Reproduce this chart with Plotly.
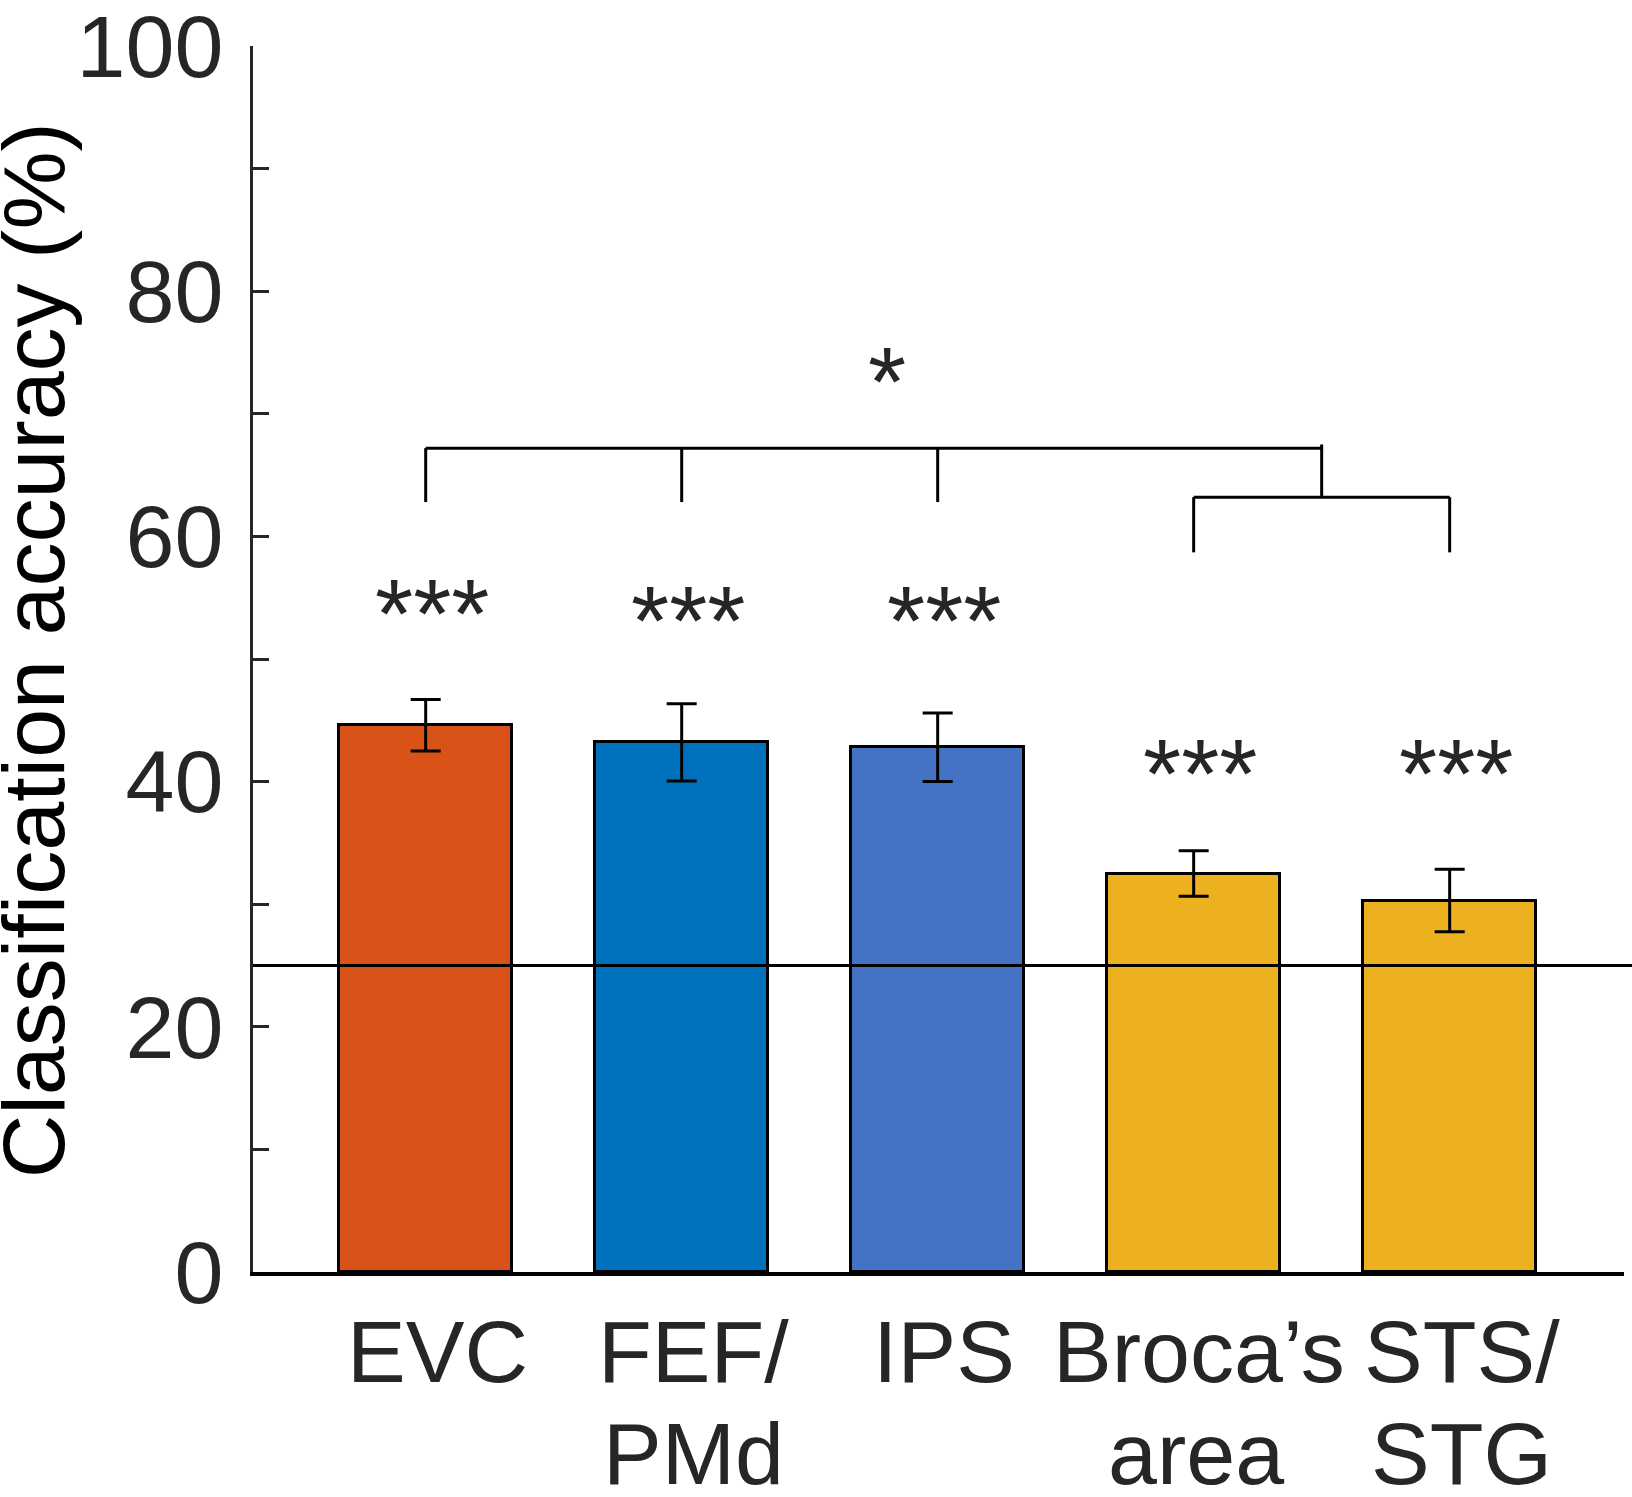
import plotly.graph_objects as go

# Regions of interest and decoding accuracy (%)
regions = [["EVC"], ["FEF/", "PMd"], ["IPS"], ["Broca’s", "area"], ["STS/", "STG"]]
accuracy = [44.6, 43.2, 42.8, 32.5, 30.3]
sem = [2.1, 3.15, 2.8, 1.85, 2.55]
bar_colors = ["#D95319", "#0072BD", "#4472C4", "#EDB120", "#EDB120"]
chance_level = 25
stars = ["***", "***", "***", "***", "***"]
star_y = [54.5, 53.9, 53.9, 41.4, 41.4]

# Group comparison: visual/dorsal ROIs vs. language ROIs
group_left = [1, 2, 3]
group_right = [4, 5]
group_line_y = 67.2
group_drop_y = 62.8
pair_line_y = 63.2
pair_drop_y = 58.7
group_star = "*"
group_star_y = 73.4

FONT = "Liberation Sans, Arial, sans-serif"
TXT = "#262626"

xs = list(range(1, len(regions) + 1))

fig = go.Figure()
fig.add_trace(go.Bar(
    x=xs, y=accuracy, width=0.676,
    marker=dict(color=bar_colors, line=dict(color="black", width=3)),
    error_y=dict(type="data", array=sem, visible=True,
                 color="black", thickness=3, width=15),
    showlegend=False,
))

shapes = []
# chance level line
shapes.append(dict(type="line", xref="paper", yref="y", x0=0, x1=1.01,
                   y0=chance_level, y1=chance_level,
                   line=dict(color="black", width=3), layer="above"))

line_style = dict(color="black", width=3)
pair_mid = (group_right[0] + group_right[-1]) / 2
# bracket joining the language ROIs
shapes.append(dict(type="line", x0=group_right[0], x1=group_right[-1],
                   y0=pair_line_y, y1=pair_line_y, line=line_style))
for gx in group_right:
    shapes.append(dict(type="line", x0=gx, x1=gx, y0=pair_drop_y,
                       y1=pair_line_y, line=line_style))
# bracket joining the other ROIs with the language pair
shapes.append(dict(type="line", x0=group_left[0], x1=pair_mid,
                   y0=group_line_y, y1=group_line_y, line=line_style))
for gx in group_left:
    shapes.append(dict(type="line", x0=gx, x1=gx, y0=group_drop_y,
                       y1=group_line_y, line=line_style))
shapes.append(dict(type="line", x0=pair_mid, x1=pair_mid, y0=pair_line_y,
                   y1=group_line_y + 0.3, line=line_style))

annotations = []
for x, s, y in zip(xs, stars, star_y):
    annotations.append(dict(x=x, y=y, text=s, showarrow=False, xshift=6,
                            yshift=-10, font=dict(size=98, color=TXT,
                                                  family=FONT)))
annotations.append(dict(x=(group_left[0] + pair_mid) / 2, y=group_star_y,
                        text=group_star, showarrow=False, xshift=13,
                        yshift=-10,
                        font=dict(size=98, color=TXT, family=FONT)))

# category labels under each bar, one line at a time for tight leading
line_offsets = [-79.5, -181.5]
label_nudge = [12, 12, 6, 5, 12]
for x, lines, nudge in zip(xs, regions, label_nudge):
    for i, (line, dy) in enumerate(zip(lines, line_offsets)):
        annotations.append(dict(x=x, xref="x", yref="paper", y=0, yshift=dy,
                                xshift=nudge - 3 * i * (x == 4), text=line,
                                showarrow=False,
                                xanchor="center", yanchor="middle",
                                font=dict(size=88, color=TXT, family=FONT)))

# y-axis title
annotations.append(dict(xref="paper", yref="paper", x=-0.1605, y=0.507,
                        text="Classification accuracy (%)", textangle=-90,
                        showarrow=False, xanchor="center", yanchor="middle",
                        font=dict(size=88, color="black", family=FONT)))

yvals = list(range(0, 101, 10))
ytext = [str(v) if v % 20 == 0 else "" for v in yvals]

fig.update_layout(
    width=1632, height=1497,
    margin=dict(l=253, r=8, t=46, b=225, autoexpand=False),
    paper_bgcolor="white", plot_bgcolor="white",
    bargap=0,
    shapes=shapes, annotations=annotations,
    font=dict(family=FONT, color=TXT),
    xaxis=dict(range=[0.3254, 5.681], tickvals=xs, showticklabels=False,
               showline=True, linecolor="black", linewidth=3.5,
               ticks="", showgrid=False, zeroline=False, automargin=False),
    yaxis=dict(range=[0, 100], tickvals=yvals, ticktext=ytext,
               showline=True, linecolor=TXT, linewidth=3,
               ticks="inside", ticklen=16, tickwidth=3, tickcolor=TXT,
               showgrid=False, zeroline=False, automargin=False,
               ticklabelstandoff=9, ticklabeloverflow="allow",
               tickfont=dict(size=88, color=TXT, family=FONT)),
)

fig.write_html("out.html")
